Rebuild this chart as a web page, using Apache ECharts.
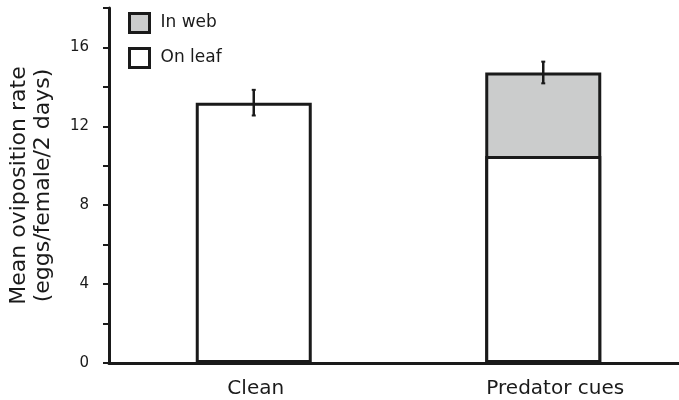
<!DOCTYPE html>
<html>
<head>
<meta charset="utf-8">
<script src="https://cdn.jsdelivr.net/npm/echarts@6/dist/echarts.min.js"></script>
<style>
html,body{margin:0;padding:0;background:#fff;}
#c{width:679px;height:400px;}
</style>
</head>
<body>
<div id="c"></div>
<script>
var categories = ['Clean', 'Predator cues'];
var onLeaf = [13.2, 10.5];
var inWeb = [0, 4.23];
var errHalf = [0.65, 0.55];
var yTicks = [0, 4, 8, 12, 16];

var INK = '#1a1a1a';
var chart = echarts.init(document.getElementById('c'));
var totals = categories.map(function (c, i) { return onLeaf[i] + inWeb[i]; });
var webBars = totals.map(function (t, i) { return inWeb[i] > 0 ? t : '-'; });
var errData = categories.map(function (c, i) {
  return [i, totals[i] - errHalf[i], totals[i] + errHalf[i]];
});
var labelFont = { fontFamily: 'DejaVu Sans', fontSize: 20, color: INK };

chart.setOption({
  animation: false,
  backgroundColor: '#fff',
  grid: { left: 109, right: -9, top: 8, bottom: 37, containLabel: false, outerBoundsMode: 'none' },
  legend: {
    orient: 'vertical',
    left: 128,
    top: 12,
    padding: 0,
    icon: 'rect',
    itemWidth: 20,
    itemHeight: 19,
    itemGap: 13,
    data: ['In web', 'On leaf'],
    itemStyle: { borderColor: INK, borderWidth: 3 },
    textStyle: { fontFamily: 'DejaVu Sans', fontSize: 17, color: INK, padding: [0, 0, 0, 6] }
  },
  xAxis: {
    type: 'category',
    data: categories,
    axisLine: { lineStyle: { color: INK, width: 3 } },
    axisTick: { show: false },
    axisLabel: {
      fontFamily: 'DejaVu Sans', fontSize: 20, color: INK, margin: 16,
      formatter: function (v, i) { return '{c' + i + '|' + v + '}'; },
      rich: {
        c0: Object.assign({ padding: [0, 0, 0, 4] }, labelFont),
        c1: Object.assign({ padding: [0, 0, 0, 24] }, labelFont)
      }
    }
  },
  yAxis: {
    type: 'value',
    min: 0,
    max: 18,
    interval: 2,
    splitLine: { show: false },
    axisLine: { show: true, lineStyle: { color: INK, width: 3 } },
    axisTick: { show: true, length: 6, lineStyle: { color: INK, width: 2 } },
    axisLabel: {
      fontFamily: 'DejaVu Sans', fontSize: 15, color: INK, margin: 20,
      formatter: function (v) { return yTicks.indexOf(v) >= 0 ? String(v) : ''; }
    },
    name: 'Mean oviposition rate\n(eggs/female/2 days)',
    nameLocation: 'middle',
    nameGap: 54,
    nameTextStyle: { fontFamily: 'DejaVu Sans', fontSize: 22, color: INK, lineHeight: 24 }
  },
  series: [
    {
      name: 'In web', type: 'bar', barWidth: 116, z: 2,
      data: webBars,
      itemStyle: { color: '#cbcccc', borderColor: INK, borderWidth: 3 }
    },
    {
      name: 'On leaf', type: 'bar', barWidth: 116, barGap: '-100%', z: 3,
      data: onLeaf,
      itemStyle: { color: '#ffffff', borderColor: INK, borderWidth: 3 }
    },
    {
      type: 'custom',
      z: 10,
      data: errData,
      renderItem: function (params, api) {
        var lo = api.coord([api.value(0), api.value(1)]);
        var hi = api.coord([api.value(0), api.value(2)]);
        return {
          type: 'group',
          children: [
            { type: 'line', shape: { x1: hi[0], y1: hi[1], x2: lo[0], y2: lo[1] }, style: { stroke: INK, lineWidth: 2.5 } },
            { type: 'line', shape: { x1: hi[0] - 2, y1: hi[1], x2: hi[0] + 2, y2: hi[1] }, style: { stroke: INK, lineWidth: 2 } },
            { type: 'line', shape: { x1: lo[0] - 2, y1: lo[1], x2: lo[0] + 2, y2: lo[1] }, style: { stroke: INK, lineWidth: 2 } }
          ]
        };
      }
    }
  ]
});
</script>
</body>
</html>
